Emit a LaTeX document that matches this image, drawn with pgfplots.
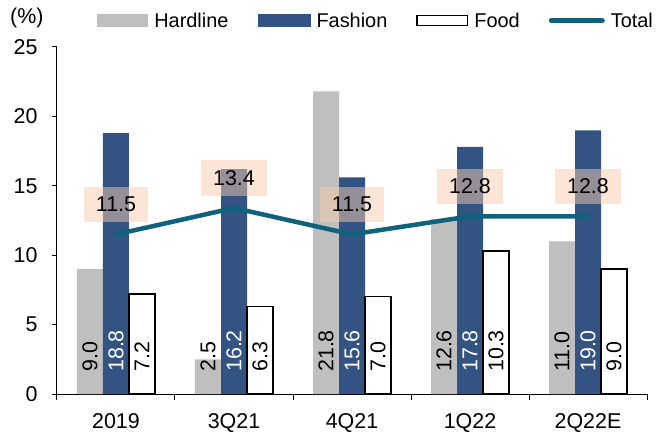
\documentclass[border=0pt]{standalone}
\usepackage{pgfplots}
\pgfplotsset{compat=1.18}
\usepackage{fontspec}
\setmainfont{Liberation Sans}
\definecolor{hard}{RGB}{191,191,191}
\definecolor{fash}{RGB}{51,84,131}
\definecolor{tot}{RGB}{14,98,124}
\definecolor{peach}{RGB}{248,203,173}
\newcommand{\ff}{\fontsize{21.5}{25}\selectfont}
\newcommand{\fl}{\fontsize{20}{24}\selectfont}
\begin{document}
\begin{tikzpicture}
\begin{axis}[name=ax, scale only axis, width=590bp, height=347bp,
  xmin=-0.5, xmax=4.5, ymin=0, ymax=25,
  ytick={0,5,10,15,20,25},
  xtick={0,1,2,3,4}, xticklabels={2019,3Q21,4Q21,1Q22,2Q22E},
  minor xtick={-0.5,0.5,1.5,2.5,3.5,4.5},
  axis x line*=bottom, axis y line*=left,
  axis line style={-, line width=1bp, black},
  tick align=outside,
  major tick length=5bp, minor tick length=6bp,
  tick style={black, line width=1bp},
  major x tick style={draw=none},
  /pgf/number format/assume math mode=true,
  tick label style={font=\ff},
  yticklabel style={xshift=-11bp},
  xticklabel style={yshift=-11bp},
  clip=false,
  legend columns=4,
  legend cell align=left,
  legend style={at={(axis description cs:0.068,1.076)}, anchor=west, draw=none, fill=none,
    inner sep=0pt, font=\fl, nodes={inner xsep=0pt},
    /tikz/every even column/.append style={column sep=29bp},
    /tikz/every odd column/.append style={column sep=6bp}},
]
\addplot[ybar, bar width=26bp, bar shift=-26bp, fill=hard, draw=none,
  legend image code/.code={\fill[hard] (0bp,-6.5bp) rectangle (51bp,6.5bp);}]
  coordinates {(0,9.0) (1,2.5) (2,21.8) (3,12.6) (4,11.0)};
\addplot[ybar, bar width=26bp, bar shift=0bp, fill=fash, draw=none,
  legend image code/.code={\fill[fash] (0bp,-6.5bp) rectangle (53bp,6.5bp);}]
  coordinates {(0,18.8) (1,16.2) (2,15.6) (3,17.8) (4,19.0)};
\addplot[ybar, bar width=26bp, bar shift=26bp, fill=white, draw=black, line width=1.2bp,
  legend image code/.code={\draw[black, line width=1.2bp, fill=white] (0.6bp,-5bp) rectangle (51.4bp,5bp);}]
  coordinates {(0,7.2) (1,6.3) (2,7.0) (3,10.3) (4,9.0)};
\addplot[tot, line width=4.5bp, mark=none, line cap=round, line join=round,
  legend image code/.code={\draw[tot, line width=5bp, line cap=round] (2.5bp,0bp) -- (53.5bp,0bp);},
  nodes near coords, point meta=explicit symbolic,
  every node near coord/.style={anchor=center, yshift=30bp, fill=peach, fill opacity=0.5,
    text opacity=1, text=black, inner xsep=12bp, inner ysep=10bp, font=\ff}]
  coordinates {(0,11.5)[11.5] (1,13.4)[13.4] (2,11.5)[11.5] (3,12.8)[12.8] (4,12.8)[12.8]};
% bar value labels
\addplot[draw=none, mark=none, forget plot, nodes near coords, point meta=explicit symbolic,
  every node near coord/.style={xshift=-26bp, yshift=22bp, rotate=90, anchor=west, inner sep=0pt, text=black, font=\ff}]
  coordinates {(0,0)[9.0] (1,0)[2.5] (2,0)[21.8] (3,0)[12.6] (4,0)[11.0]};
\addplot[draw=none, mark=none, forget plot, nodes near coords, point meta=explicit symbolic,
  every node near coord/.style={yshift=22bp, rotate=90, anchor=west, inner sep=0pt, text=white, font=\ff}]
  coordinates {(0,0)[18.8] (1,0)[16.2] (2,0)[15.6] (3,0)[17.8] (4,0)[19.0]};
\addplot[draw=none, mark=none, forget plot, nodes near coords, point meta=explicit symbolic,
  every node near coord/.style={xshift=26bp, yshift=22bp, rotate=90, anchor=west, inner sep=0pt, text=black, font=\ff}]
  coordinates {(0,0)[7.2] (1,0)[6.3] (2,0)[7.0] (3,0)[10.3] (4,0)[9.0]};
\legend{Hardline, Fashion, Food, Total}
\end{axis}
\node[anchor=west, inner sep=0pt, font=\ff] at ([xshift=-47bp, yshift=29bp]ax.north west) {(\%)};
\pgfresetboundingbox
\path ([xshift=-57bp,yshift=-41bp]ax.south west) rectangle ([xshift=13bp,yshift=47bp]ax.north east);
\end{tikzpicture}
\end{document}
